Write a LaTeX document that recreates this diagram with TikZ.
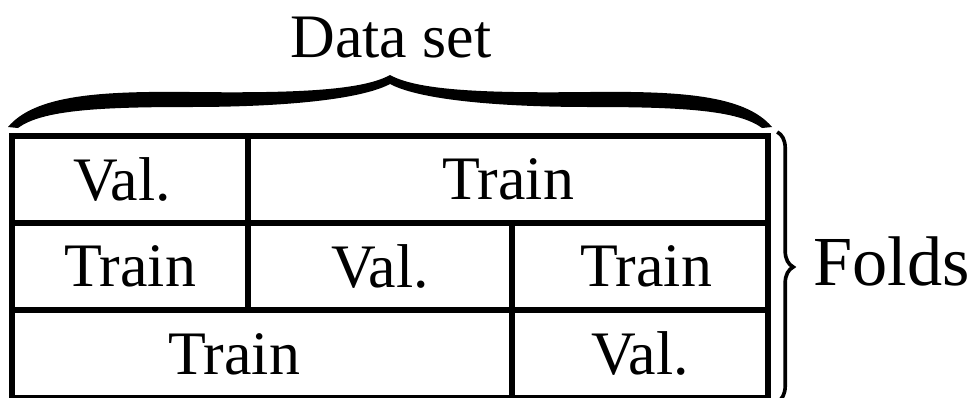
\documentclass[tikz,border=0pt]{standalone}
\usepackage{fontspec}
\setmainfont{Liberation Serif}
\usepackage{tikz}
\usetikzlibrary{positioning, decorations.pathreplacing}
\tikzstyle{cell} = [rectangle, draw=black, line width=4.3pt, minimum height=2.18cm, inner sep=0pt, outer sep=0pt, font=\fontsize{44}{50}\selectfont]
\tikzstyle{title} = [inner sep=0pt, font=\fontsize{44}{50}\selectfont]
\tikzstyle{sidebrace} = [decorate, decoration={brace, amplitude=0.4cm}, line width=2.6pt]

\begin{document}
\begin{tikzpicture}
    \useasboundingbox (0,0) rectangle (24.4,-9.925);
    % Folds of the data set
    \node[cell, minimum width=5.9cm, anchor=north west] (val1) at (0.3,-3.4) {Val.\hspace{0.4cm}\null};
    \node[cell, minimum width=13cm, right=0pt of val1] (train1) {Train};
    \node[cell, minimum width=5.9cm, below right=0pt of val1.south west] (train2a) {Train};
    \node[cell, minimum width=6.6cm, right=0pt of train2a] (val2) {Val.};
    \node[cell, minimum width=6.4cm, right=0pt of val2] (train2b) {\hspace{0.3cm}Train};
    \node[cell, minimum width=12.5cm, below right=0pt of train2a.south west] (train3) {Train\hspace{1.4cm}\null};
    \node[cell, minimum width=6.4cm, right=0pt of train3] (val3) {Val.};

    % Brace over the whole data set
    \fill (0.2,-3.175) .. controls (0.875,-2.375) and (2.5,-2.275) .. (4.75,-2.3)
        .. controls (7,-2.325) and (9,-2.3) .. (9.75,-1.875)
        .. controls (10.5,-2.3) and (12.5,-2.325) .. (14.75,-2.3)
        .. controls (17,-2.275) and (18.625,-2.375) .. (19.3,-3.175)
        -- (19.05,-3.2)
        .. controls (18.45,-2.75) and (17,-2.675) .. (14.75,-2.675)
        .. controls (12.5,-2.675) and (10.5,-2.5) .. (9.75,-2.1)
        .. controls (9,-2.5) and (7,-2.675) .. (4.75,-2.675)
        .. controls (2.5,-2.675) and (1.05,-2.75) .. (0.45,-3.2) -- cycle;
    \node[title, anchor=base] (dataset) at (9.775,-1.425) {Data set};

    % Brace over the folds
    \coordinate (bracetop) at (19.43,-3.3);
    \coordinate (bracebottom) at (19.43,-10.05);
    \draw[sidebrace] (bracetop) -- (bracebottom);
    \node[title, font=\fontsize{50}{56}\selectfont, anchor=base west] (folds) at (20.325,-7.125) {Folds};
\end{tikzpicture}
\end{document}
